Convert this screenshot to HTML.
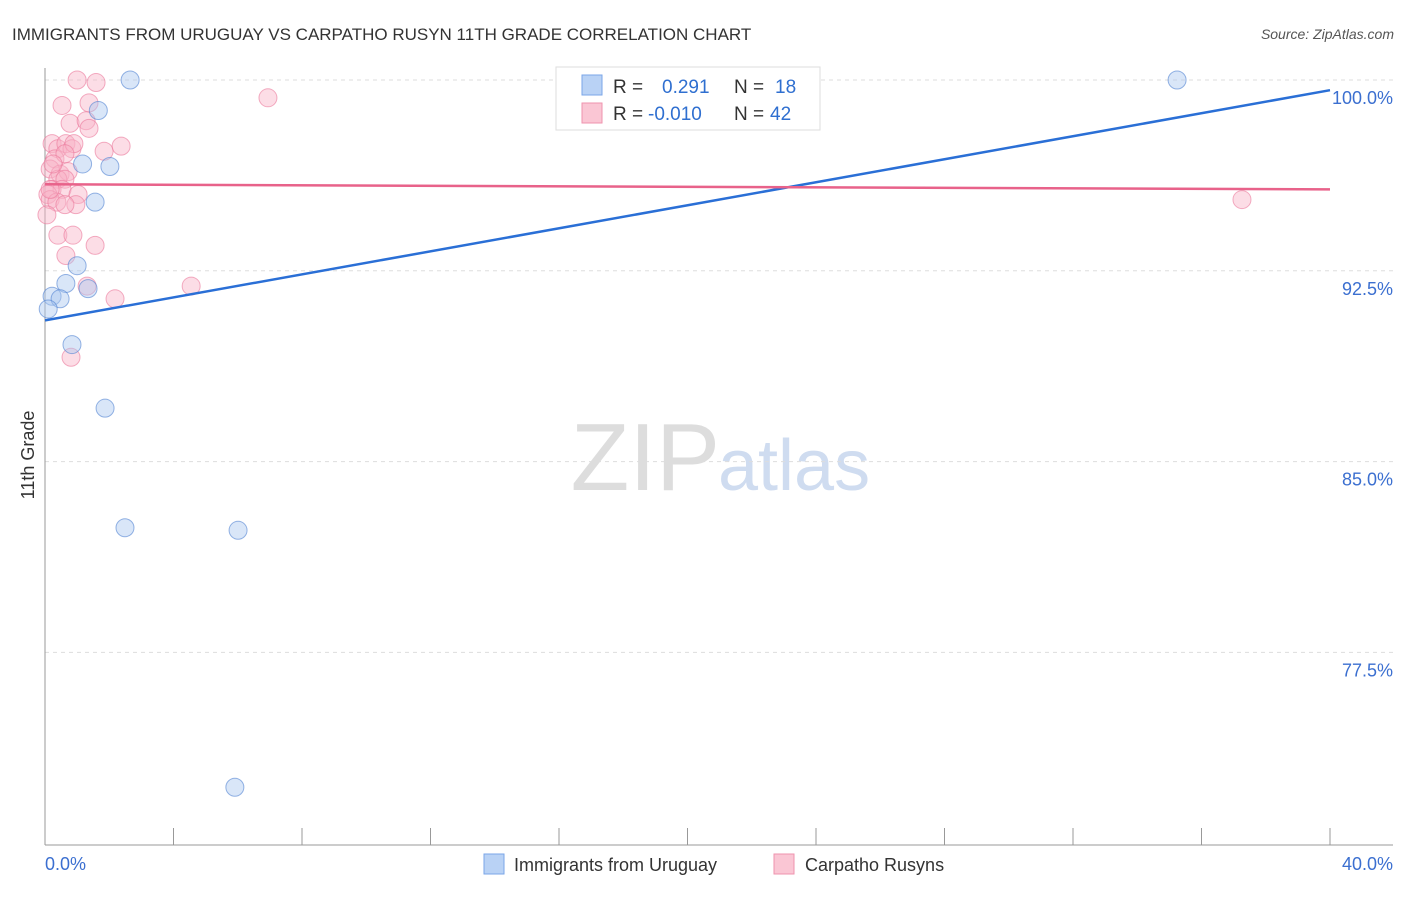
<!DOCTYPE html>
<html><head><meta charset="utf-8"><style>
body{margin:0;background:#fff;font-family:"Liberation Sans",sans-serif}
text{font-family:"Liberation Sans",sans-serif}
</style></head><body>
<svg id="chart" width="1406" height="892" xmlns="http://www.w3.org/2000/svg">
<text x="12" y="40" font-size="17" fill="#333">IMMIGRANTS FROM URUGUAY VS CARPATHO RUSYN 11TH GRADE CORRELATION CHART</text>
<text x="1394" y="39" font-size="14" fill="#555" font-style="italic" text-anchor="end">Source: ZipAtlas.com</text>
<text x="720" y="490" font-size="96" fill="#ddd" text-anchor="end" font-family="Liberation Serif">ZIP</text>
<text x="718" y="490" font-size="72" fill="#cfdcf0">atlas</text>
<text transform="translate(34,455) rotate(-90)" font-size="18" fill="#333" text-anchor="middle">11th Grade</text>
<g id="grid"></g><g id="axes"></g><g id="marks"></g>
<g>
<rect x="556" y="67" width="264" height="63" fill="#fff" stroke="#ddd"/>
<rect x="582" y="75" width="20" height="20" fill="#b9d2f5" stroke="#7aa6e8"/>
<rect x="582" y="103" width="20" height="20" fill="#fac6d4" stroke="#ef93ae"/>
<text x="613" y="93" font-size="19" fill="#333">R = <tspan fill="#2f6fd0" x="662">0.291</tspan><tspan fill="#333" x="734">N = </tspan><tspan fill="#2f6fd0" x="775">18</tspan></text>
<text x="613" y="120" font-size="19" fill="#333">R = <tspan fill="#2f6fd0" x="648">-0.010</tspan><tspan fill="#333" x="734">N = </tspan><tspan fill="#2f6fd0" x="770">42</tspan></text>
</g>
<g>
<rect x="484" y="854" width="20" height="20" fill="#b9d2f5" stroke="#7aa6e8"/>
<text x="514" y="871" font-size="18" fill="#333">Immigrants from Uruguay</text>
<rect x="774" y="854" width="20" height="20" fill="#fac6d4" stroke="#ef93ae"/>
<text x="805" y="871" font-size="18" fill="#333">Carpatho Rusyns</text>
</g>
</svg>
<script>
const xTicks=[0,40];
const yTicks=[77.5,85,92.5,100];
const blueX=[2.65,1.66,1.17,2.02,1.56,1.0,0.65,1.34,0.22,0.47,0.1,0.84,1.87,2.49,6.01,5.91,23.56,35.24];
const blueY=[100,98.8,96.7,96.6,95.2,92.7,92.0,91.8,91.5,91.4,91.0,89.6,87.1,82.4,82.3,72.2,100,100];
const pinkX=[1.0,1.59,6.94,1.37,0.78,1.28,1.37,0.22,0.4,0.65,0.84,0.9,1.84,2.37,0.31,0.62,0.16,0.47,0.72,0.4,0.62,0.22,0.53,0.09,1.03,0.16,0.37,0.96,0.62,0.06,0.4,0.87,1.56,0.65,1.31,2.18,4.55,0.81,37.26,0.16,0.53,0.25];
const pinkY=[100,99.9,99.3,99.1,98.3,98.4,98.1,97.5,97.3,97.5,97.3,97.5,97.2,97.4,96.9,97.1,96.5,96.3,96.4,96.1,96.1,95.7,95.7,95.5,95.5,95.3,95.2,95.1,95.1,94.7,93.9,93.9,93.5,93.1,91.9,91.4,91.9,89.1,95.3,95.7,99.0,96.7];
const blueTrend=[0,90.55,40,99.6];
const pinkTrend=[0,95.9,40,95.7];
const X=v=>45+v*(1330-45)/40, Y=v=>80+(100-v)*(270.8-80)/7.5;
const NS="http://www.w3.org/2000/svg";
function mk(t,a,p){const e=document.createElementNS(NS,t);for(const k in a)e.setAttribute(k,a[k]);document.getElementById(p).appendChild(e);return e;}
yTicks.forEach(v=>{const l=mk('line',{x1:45,x2:1393,y1:Y(v),y2:Y(v),stroke:'#ddd','stroke-dasharray':'4,4'},'grid');


const t=mk('text',{x:1393,y:Y(v)+24,'font-size':18,fill:'#3b6fd0','text-anchor':'end'},'grid');t.textContent=v.toFixed(1)+'%';

});
const ax=mk('line',{x1:45,x2:45,y1:68,y2:845,stroke:'#999'},'axes');


const bx=mk('line',{x1:45,x2:1393,y1:845,y2:845,stroke:'#999'},'axes');


for(let i=0;i<=10;i++){const tk=mk('line',{x1:X(i*4),x2:X(i*4),y1:828,y2:845,stroke:'#999'},'axes');

}
xTicks.forEach((v,i)=>{const t=mk('text',{x:i?1393:45,y:870,'font-size':18,fill:'#3b6fd0','text-anchor':i?'end':'start'},'axes');t.textContent=v.toFixed(1)+'%';

});
pinkX.forEach((v,i)=>{const c=mk('circle',{cx:X(v),cy:Y(pinkY[i]),r:9,fill:'rgba(248,180,200,0.45)',stroke:'rgba(235,120,155,0.6)'},'marks');

});
blueX.forEach((v,i)=>{const c=mk('circle',{cx:X(v),cy:Y(blueY[i]),r:9,fill:'rgba(170,200,240,0.45)',stroke:'rgba(80,130,210,0.6)'},'marks');

});
const bl=mk('line',{x1:X(blueTrend[0]),y1:Y(blueTrend[1]),x2:X(blueTrend[2]),y2:Y(blueTrend[3]),stroke:'#2a6fd6','stroke-width':2.5},'marks');


const pl=mk('line',{x1:X(pinkTrend[0]),y1:Y(pinkTrend[1]),x2:X(pinkTrend[2]),y2:Y(pinkTrend[3]),stroke:'#e8628a','stroke-width':2.5},'marks');


</script>
</body></html>
